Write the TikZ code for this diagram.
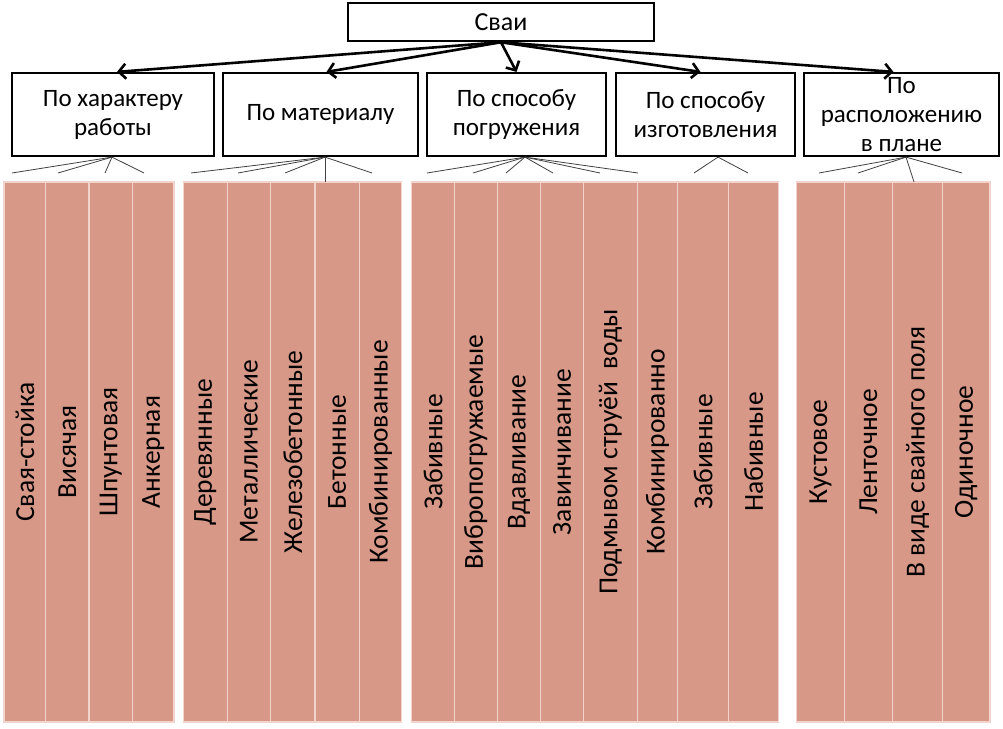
\documentclass[tikz,border=0pt]{standalone}
\usepackage{fontspec}
\setmainfont{Carlito}
\usetikzlibrary{arrows.meta}
\definecolor{colfill}{RGB}{215,152,135}
\definecolor{colline}{RGB}{242,212,204}
\definecolor{fanline}{RGB}{64,64,64}
\begin{document}
\begin{tikzpicture}[
    x=1pt, y=-1pt,
    topbox/.style={draw, line width=2.5pt, minimum width=306pt, minimum height=38pt,
                   font=\fontsize{26}{30}\selectfont},
    cat/.style={draw, line width=2.2pt, minimum height=83pt, align=center, inner sep=2pt,
                font=\fontsize{25}{29}\selectfont},
    col/.style={fill=colfill, draw=colline, line width=1.2pt, rotate=90,
                minimum width=540pt, inner sep=0pt, font=\fontsize{27.5}{32}\selectfont},
    arr/.style={-{Straight Barb[length=7pt, width=15pt]}, line width=2.6pt},
    fan/.style={draw=fanline, line width=0.8pt}
  ]
    \useasboundingbox (0,0) rectangle (1003,728);

    % top node
    \node[topbox] (svai) at (501,22) {Сваи};

    % categories
    \node[cat, minimum width=202pt] (cat1) at (113,114.5)   {По характеру\\работы};
    \node[cat, minimum width=195pt] (cat2) at (320.5,114.5) {По материалу};
    \node[cat, minimum width=179pt] (cat3) at (516.5,114.5) {По способу\\погружения};
    \node[cat, minimum width=179pt] (cat4) at (705.5,114.5) {По способу\\изготовления};
    \node[cat, minimum width=195pt] (cat5) at (901.5,114.5) {По\\расположению\\в плане};

    % arrows
    \draw[arr] (svai.south) -- ([xshift=4pt]cat1.north);
    \draw[arr] (svai.south) -- ([xshift=6pt]cat2.north);
    \draw[arr] (svai.south) -- (cat3.north);
    \draw[arr] (svai.south) -- ([xshift=-5pt]cat4.north);
    \draw[arr] (svai.south) -- ([xshift=-8pt]cat5.north);

    % columns
    \foreach \l/\r/\txt [count=\i] in {
        4/45.7/Свая-стойка, 45.7/89/Висячая, 89/132.3/Шпунтовая, 132.3/174/Анкерная,
        183.3/227.3/Деревянные, 227.3/270.7/Металлические, 270.7/315/Железобетонные,
        315/359.3/Бетонные, 359.3/401.7/Комбинированные,
        411.7/454.3/Забивные, 454.3/497.3/Вибропогружаемые, 497.3/540.7/Вдавливание,
        540.7/583.3/Завинчивание, 583.3/637.3/Подмывом струёй~ воды,
        637.3/677.7/Комбинированно, 677.7/728.7/Забивные, 728.7/778.3/Набивные,
        796.7/844.3/Кустовое, 844.3/892.7/Ленточное, 892.7/942.3/В виде свайного поля,
        942.3/990/Одиночное} {
      \pgfmathsetmacro\cx{(\l+\r)/2}
      \pgfmathsetmacro\cw{\r-\l}
      \node[col, minimum height=\cw pt] (col\i) at (\cx,452) {\txt};
    }

    % fan lines from categories
    \coordinate (o1) at ([xshift=-1pt]cat1.south);
    \coordinate (o2) at ([xshift=4.5pt]cat2.south);
    \coordinate (o3) at ([xshift=8.5pt]cat3.south);
    \coordinate (o4) at ([xshift=12.5pt]cat4.south);
    \coordinate (o5) at ([xshift=4.5pt]cat5.south);
    \foreach \k/\ex/\ey [count=\j] in {
        1/12/173, 1/58/173, 1/105/173, 1/144/173,
        2/191/173, 2/238/173, 2/285/173, 2/325/182, 2/372/173,
        3/427/173, 3/473/173, 3/506/173, 3/553/173, 3/600/173, 3/638/173,
        4/694/173, 4/748/173,
        5/819/173, 5/858/173, 5/914/182, 5/962/173} {
      \coordinate (e\j) at (\ex,\ey);
      \draw[fan] (o\k) -- (e\j);
    }
\end{tikzpicture}
\end{document}
